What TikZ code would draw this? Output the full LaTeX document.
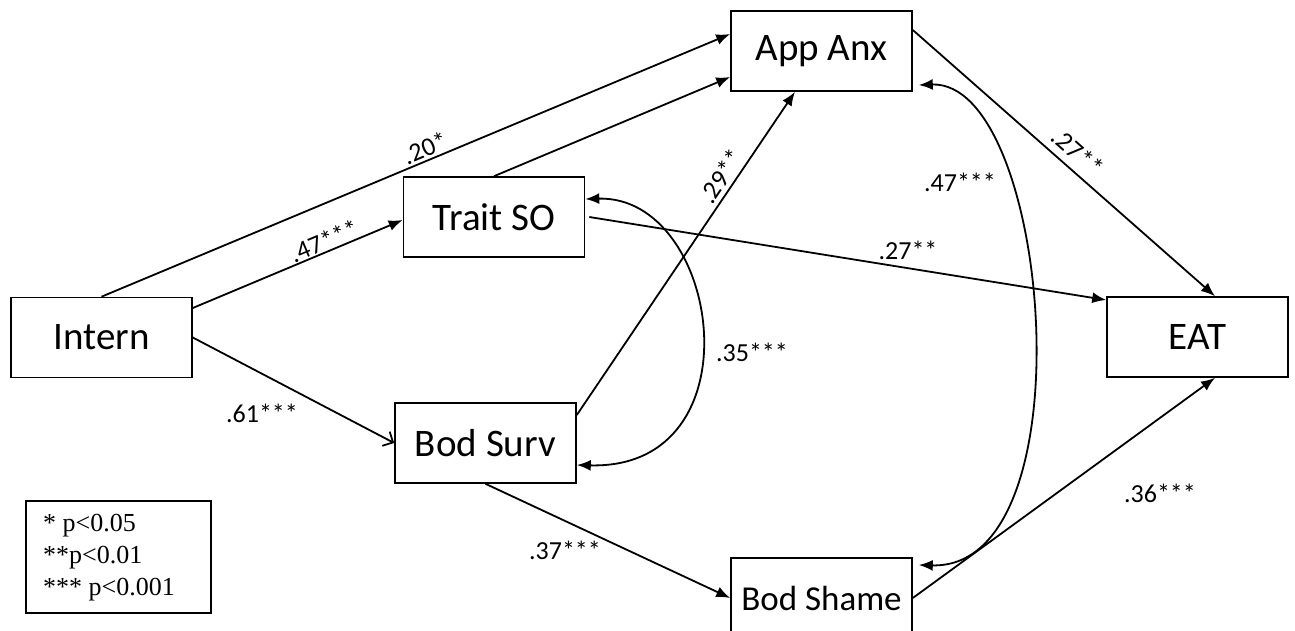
\documentclass[tikz,border=0pt]{standalone}
\usepackage{fontspec}
\setmainfont{Carlito}
\newfontfamily\keyfont{Liberation Serif}
\usetikzlibrary{arrows.meta,calc}

\tikzset{
  varbox/.style={draw, line width=1.6pt, minimum width=181pt, minimum height=80pt,
    inner sep=0pt, font=\fontsize{39}{41}\selectfont},
  coef/.style={font=\fontsize{26}{28}\selectfont, inner sep=0pt},
  effect/.style={line width=1.8pt, -{Latex[length=14pt,width=11pt]}},
  openeffect/.style={line width=1.8pt, -{Straight Barb[length=8pt,width=16pt,line width=1.8pt]}},
  covary/.style={line width=1.8pt, {Latex[length=14pt,width=11pt]}-{Latex[length=14pt,width=11pt]}},
  keybox/.style={draw, line width=1.6pt, minimum width=185pt, minimum height=112pt, inner sep=0pt}
}

\begin{document}
\begin{tikzpicture}[x=1pt, y=-1pt]
\clip (0,0) rectangle (1295,630);
\fill[white] (0,0) rectangle (1295,630);

% variables
\node[varbox] (app)    at (821.5,51)   {App Anx};
\node[varbox] (trait)  at (494,217)    {Trait SO};
\node[varbox] (intern) at (101.5,337.5){Intern};
\node[varbox] (surv)   at (485.5,443)  {Bod Surv};
\node[varbox, font=\fontsize{35}{37}\selectfont] (shame) at (821.5,598) {Bod Shame};
\node[varbox] (eat)    at (1197.5,337) {EAT};

% significance key
\node[keybox] (key) at (118.5,557) {};
\node[anchor=west, align=left, inner sep=0pt, font=\keyfont\fontsize{26}{32}\selectfont]
  (keytext) at (43,558) {* p<0.05\\**p<0.01\\*** p<0.001};

% direct paths
\draw[effect] (intern.north) -- ([yshift=17pt]app.west);
\draw[effect] (trait.north) -- ([yshift=-26pt]app.west);
\draw[effect] ([yshift=29.5pt]intern.east) -- ([yshift=-3pt]trait.west);
\draw[openeffect] (intern.east) -- (surv.west);
\draw[effect] ([yshift=28pt]surv.east) -- ([xshift=-26.5pt]app.south);
\draw[effect] ([xshift=4pt]trait.east) -- ([yshift=37pt]eat.west);
\draw[effect] ([yshift=21pt]app.east) -- ([xshift=17.5pt]eat.north);
\draw[effect] (shame.east) -- ([xshift=17.5pt]eat.south);
\draw[effect] (surv.south) -- (shame.west);

% covariances
\draw[covary] ([yshift=18pt]trait.east) .. controls +(136,-4) and +(183,5) .. ([yshift=-22pt]surv.east);
\draw[covary] ([xshift=6pt,yshift=-34pt]app.east) .. controls +(132,-5) and +(172,5) .. ([xshift=6pt,yshift=33pt]shame.east);

% coefficients
\node[coef, rotate=22.7]  (c1) at (425,148) {.20*};
\node[coef, rotate=22.7]  (c2) at (324,241) {.47***};
\node[coef]               (c3) at (262,413) {.61***};
\node[coef, rotate=55.9]  (c4) at (721,176) {.29**};
\node[coef]               (c5) at (908,250) {.27**};
\node[coef, rotate=-41.4] (c6) at (1078,152) {.27**};
\node[coef]               (c7) at (1160,493) {.36***};
\node[coef]               (c8) at (565,550) {.37***};
\node[coef]               (c9) at (752,352) {.35***};
\node[coef]               (c10) at (960,182) {.47***};
\end{tikzpicture}
\end{document}
